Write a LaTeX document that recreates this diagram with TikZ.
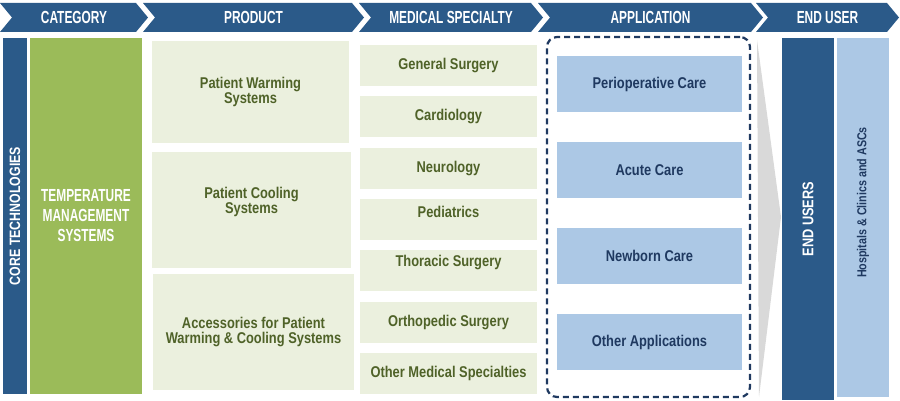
\documentclass[tikz,border=0pt]{standalone}
\usepackage{fontspec}
\setmainfont{Liberation Sans}
\newfontfamily\headfont[FakeStretch=0.68]{Liberation Sans}
\newfontfamily\bodyfont[FakeStretch=0.825]{Liberation Sans}
\usepackage{tikz}
\usetikzlibrary{calc}
\definecolor{header-blue}{RGB}{43, 90, 137}
\definecolor{navy-text}{RGB}{31, 57, 96}
\definecolor{category-green}{RGB}{155, 187, 89}
\definecolor{box-green}{RGB}{235, 240, 222}
\definecolor{olive-text}{RGB}{79, 98, 40}
\definecolor{box-blue}{RGB}{172, 200, 229}
\definecolor{wedge-gray}{RGB}{217, 217, 217}

\tikzset{
   headtxt/.style={text=white,font=\headfont\bfseries\fontsize{17.5}{17.5}\selectfont,inner sep=0pt},
   barbox/.style={rectangle,inner sep=0pt,align=center},
   prodbox/.style={barbox,fill=box-green,minimum height=116pt},
   prodtxt/.style={text=olive-text,align=center,font=\bodyfont\bfseries\fontsize{15.6}{15}\selectfont},
   medbox/.style={barbox,fill=box-green,minimum width=177pt,minimum height=41pt},
   appbox/.style={barbox,fill=box-blue,minimum width=185pt,minimum height=56pt,text=navy-text,font=\bodyfont\bfseries\fontsize{15.6}{15}\selectfont}
}

\begin{document}
\begin{tikzpicture}[x=1pt,y=-1pt]
   \useasboundingbox (0,0) rectangle (900,401);
   \foreach \xl/\xr/\nm/\txt in {0/136/hCat/CATEGORY,143/352/hProd/PRODUCT,359/531/hMed/MEDICAL SPECIALTY,538/751/hApp/APPLICATION,756/887/hEnd/END USER}{
      \fill[header-blue] (\xl,3) -- (\xr,3) -- (\xr+12,17.5) -- (\xr,32) -- (\xl,32) -- (\xl+12,17.5) -- cycle;
      \node[headtxt] (\nm) at ({(\xl+\xr)/2+6},17.5) {\txt};
   }

   \node[barbox,fill=header-blue,rotate=90,minimum width=356pt,minimum height=24pt,text=white,font=\bodyfont\bfseries\fontsize{15}{15}\selectfont] (core) at (15,216) {CORE TECHNOLOGIES};
   \node[barbox,fill=category-green,minimum width=112pt,minimum height=356pt,text=white,font=\headfont\bfseries\fontsize{17.5}{20}\selectfont] (tms) at (86,216) {TEMPERATURE\\MANAGEMENT\\SYSTEMS};

   \node[prodbox,minimum width=197pt,minimum height=102pt] (warm) at (250.5,92) {};
   \node[prodtxt] (warmTxt) at (warm.center) {Patient Warming\\Systems};
   \node[prodbox,minimum width=199pt] (cool) at (251.5,210) {};
   \node[prodtxt] (coolTxt) at ($(cool.center)+(0,-8)$) {Patient Cooling\\Systems};
   \node[prodbox,minimum width=201pt] (acc) at (253.5,332) {};
   \node[prodtxt] (accTxt) at (acc.center) {Accessories for Patient\\Warming \& Cooling Systems};

   \foreach \txt/\dy [count=\i from 0] in {General Surgery/0,Cardiology/0,Neurology/0,Pediatrics/8,Thoracic Surgery/8,Orthopedic Surgery/0,Other Medical Specialties/0}{
      \node[medbox] (med\i) at (448.5,{65.5+51.33*\i}) {};
      \node[prodtxt] (med\i txt) at ($(med\i.center)+(0,-\dy)$) {\txt};
   }

   \node[draw=navy-text,line width=2.2pt,dash pattern=on 6pt off 4pt,rounded corners=10pt,minimum width=203pt,minimum height=360pt] (appFrame) at (648.5,217) {};
   \foreach \txt [count=\i from 0] in {Perioperative Care,Acute Care,Newborn Care,Other Applications}
      \node[appbox] (app\i) at (649.5,{84+86*\i}) {\txt};

   \fill[wedge-gray] (757,40) -- (781,217) -- (759,397) -- cycle;

   \node[barbox,fill=header-blue,rotate=90,minimum width=362pt,minimum height=52pt,text=white,font=\bodyfont\bfseries\fontsize{15.5}{16}\selectfont] (endUsers) at (808,219) {END USERS};
   \node[barbox,fill=box-blue,rotate=90,minimum width=359pt,minimum height=52pt] (hosp) at (863,217.5) {};
   \node[rotate=90,text=navy-text,font=\bodyfont\bfseries\fontsize{13}{13}\selectfont] (hospTxt) at ($(hosp.center)+(0,-15)$) {Hospitals \& Clinics and ASCs};
\end{tikzpicture}
\end{document}
